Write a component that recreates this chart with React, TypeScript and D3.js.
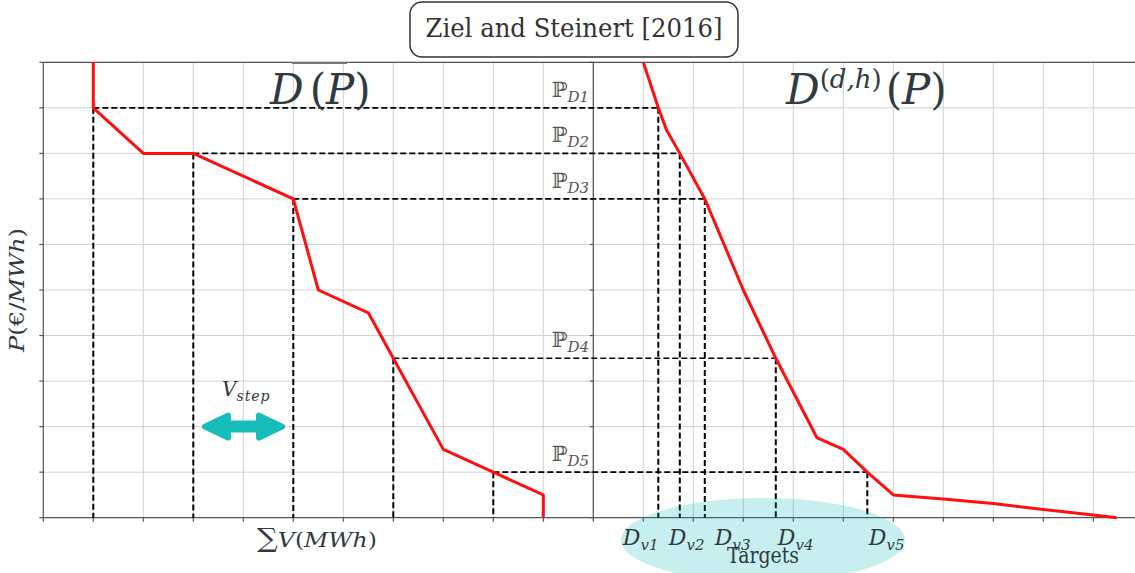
import * as d3 from 'd3';

const W = 1135;
const H = 573;

// aggregated supply steps, left panel (volume, price)
const supplyQ = [1, 1, 2, 3, 5, 5.5, 6.5, 7, 8, 9, 10, 10];
const supplyP = [10, 9, 8, 8, 7, 5, 4.5, 3.5, 1.5, 1, 0.5, 0];

// hourly demand curve D^(d,h)(P), right panel
const demandQ = [12, 12.3, 12.47, 12.73, 13.23, 14, 14.65, 15.47, 16, 16.48, 17, 18, 19, 20, 21, 21.47];
const demandP = [10, 9, 8.5, 8, 7, 5, 3.5, 1.76, 1.5, 1, 0.5, 0.41, 0.31, 0.18, 0.06, 0];

// price levels P_D1..P_D5, the step volumes and target volumes they map to
const priceLevels = [9, 8, 7, 3.5, 1];
const stepVolumes = [1, 3, 5, 7, 9];
const targetVolumes = [12.3, 12.73, 13.23, 14.65, 16.48];
const priceLabels = ['D1', 'D2', 'D3', 'D4', 'D5'];
const targetLabels = ['v1', 'v2', 'v3', 'v4', 'v5'];
const targetLabelAt = [11.59, 12.51, 13.43, 14.69, 16.51];

const xTicks = d3.range(0, 22);
const yTicks = d3.range(0, 11);

const INK = '#2f3b3f';
const MATH = 'DejaVu Serif';

export default function App() {
  const x = d3.scaleLinear().domain([0, 22]).range([43.3, 1143.3]);
  const y = d3.scaleLinear().domain([0, 10]).range([517.7, 62.3]);

  const line = d3
    .line<[number, number]>()
    .x(d => x(d[0]))
    .y(d => y(d[1]));

  const supply = supplyQ.map((q, i) => [q, supplyP[i]] as [number, number]);
  const demand = demandQ.map((q, i) => [q, demandP[i]] as [number, number]);

  const x0 = x(0);
  const xMid = x(11);
  const y0 = y(0);
  const yTop = y(10);

  // double headed arrow for V_step
  const ay = y(2);
  const arrow = `M205,${ay} L228,${ay - 11} L228,${ay - 3} L259,${ay - 3} L259,${ay - 11} L282,${ay} L259,${ay + 11} L259,${ay + 3} L228,${ay + 3} L228,${ay + 11} Z`;

  return (
    <svg
      width={W}
      height={H}
      style={{ position: 'absolute', left: 0, top: 0, background: '#fff' }}
      fontFamily={MATH}
    >
      {/* grid */}
      <g stroke="#d0d0d0" strokeWidth={1}>
        {xTicks.slice(1).map(t => (
          <line key={'gx' + t} x1={x(t)} x2={x(t)} y1={y0} y2={yTop} />
        ))}
        {yTicks.slice(1).map(t => (
          <line key={'gy' + t} x1={x0} x2={x(22)} y1={y(t)} y2={y(t)} />
        ))}
      </g>

      {/* axes and ticks */}
      <g stroke="#555" strokeWidth={1.2}>
        <line x1={x0} x2={x(22)} y1={y0} y2={y0} />
        <line x1={x0} x2={x(22)} y1={yTop} y2={yTop} />
        <line x1={x0} x2={x0} y1={y0} y2={yTop} />
        <line x1={xMid} x2={xMid} y1={y0} y2={yTop} />
        {xTicks.map(t => (
          <line key={'tx' + t} x1={x(t)} x2={x(t)} y1={y0} y2={y0 + 4} />
        ))}
        {yTicks.map(t => (
          <line key={'ty' + t} x1={x0 - 4} x2={x0} y1={y(t)} y2={y(t)} />
        ))}
        {yTicks.map(t => (
          <line key={'tm' + t} x1={xMid - 3.5} x2={xMid} y1={y(t)} y2={y(t)} />
        ))}
      </g>

      {/* price level guides */}
      <g stroke="#000" fill="none" strokeDasharray="6,3">
        {priceLevels.map((p, i) => (
          <g key={'pl' + i}>
            <line x1={x(stepVolumes[i])} x2={x(targetVolumes[i])} y1={y(p)} y2={y(p)} strokeWidth={1.6} />
            <line x1={x(stepVolumes[i])} x2={x(stepVolumes[i])} y1={y(p)} y2={y0} strokeWidth={2} />
            <line x1={x(targetVolumes[i])} x2={x(targetVolumes[i])} y1={y(p)} y2={y0} strokeWidth={2} />
          </g>
        ))}
      </g>

      {/* curves */}
      <path d={line(supply) ?? ''} fill="none" stroke="#ff0f0f" strokeWidth={3} strokeLinejoin="round" />
      <path d={line(demand) ?? ''} fill="none" stroke="#ff0f0f" strokeWidth={3} strokeLinejoin="round" />

      {/* targets ellipse */}
      <ellipse cx={763} cy={540} rx={142} ry={42} fill="rgb(0,180,180)" fillOpacity={0.22} />

      {/* P_D labels */}
      {priceLevels.map((p, i) => (
        <text key={'pt' + i} x={589} y={y(p) - 11} textAnchor="end" fill="#555">
          <tspan fontSize={21}>ℙ</tspan>
          <tspan fontSize={15} fontStyle="italic" dy={5}>
            {priceLabels[i]}
          </tspan>
        </text>
      ))}

      {/* D_v labels */}
      {targetLabelAt.map((q, i) => (
        <text key={'dv' + i} x={x(q)} y={545} fill={INK}>
          <tspan fontSize={22} fontStyle="italic">D</tspan>
          <tspan fontSize={15} fontStyle="italic" dy={5}>
            {targetLabels[i]}
          </tspan>
        </text>
      ))}
      <text x={763} y={563} textAnchor="middle" fontSize={22} fill={INK} textLength={72} lengthAdjust="spacingAndGlyphs">
        Targets
      </text>

      {/* V_step arrow */}
      <path d={arrow} fill="#17bdbb" stroke="#17bdbb" strokeWidth={6} strokeLinejoin="round" />
      <text x={222} y={396} fill={INK}>
        <tspan fontSize={20} fontStyle="italic">V</tspan>
        <tspan fontSize={14} fontStyle="italic" dy={5} letterSpacing={1}>
          step
        </tspan>
      </text>

      {/* curve titles */}
      <line x1={292} x2={347} y1={63} y2={63} stroke="#777" strokeWidth={2} />
      <text x={270} y={104} fill={INK} fontSize={42}>
        <tspan fontStyle="italic">D</tspan>
        <tspan dx={6}>(</tspan>
        <tspan fontStyle="italic">P</tspan>
        <tspan>)</tspan>
      </text>
      <text x={786} y={104} fill={INK} fontSize={42}>
        <tspan fontStyle="italic">D</tspan>
        <tspan fontSize={26} dy={-16}>(</tspan>
        <tspan fontSize={26} fontStyle="italic">d,h</tspan>
        <tspan fontSize={26}>)</tspan>
        <tspan dy={16} dx={4}>(</tspan>
        <tspan fontStyle="italic">P</tspan>
        <tspan>)</tspan>
      </text>

      {/* axis labels */}
      <text x={257} y={547} fill={INK} fontSize={21} textLength={120} lengthAdjust="spacingAndGlyphs">
        <tspan fontSize={26}>∑</tspan>
        <tspan fontStyle="italic">V</tspan>
        <tspan>(</tspan>
        <tspan fontStyle="italic">MWh</tspan>
        <tspan>)</tspan>
      </text>
      <text
        transform={`translate(24,290) rotate(-90)`}
        textAnchor="middle"
        fill={INK}
        fontSize={21}
        textLength={124}
        lengthAdjust="spacingAndGlyphs"
      >
        <tspan fontStyle="italic">P</tspan>
        <tspan>(€/</tspan>
        <tspan fontStyle="italic">MWh</tspan>
        <tspan>)</tspan>
      </text>

      {/* reference box */}
      <rect x={410} y={2} width={328} height={55} rx={12} fill="#fff" stroke="#333" strokeWidth={1.5} />
      <text x={574} y={37} textAnchor="middle" fontSize={26} fill="#333" textLength={297} lengthAdjust="spacingAndGlyphs">
        Ziel and Steinert [2016]
      </text>
    </svg>
  );
}
